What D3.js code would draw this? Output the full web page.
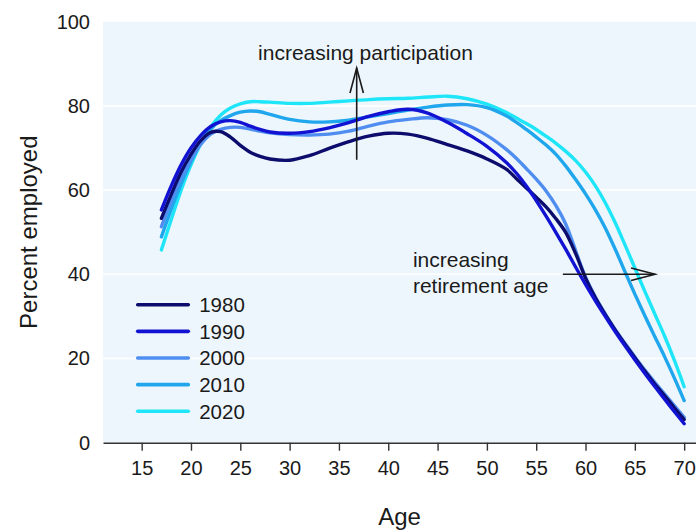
<!DOCTYPE html>
<html>
<head>
<meta charset="utf-8">
<script src="https://cdn.jsdelivr.net/npm/d3@7"></script>
<style>
  html, body { margin: 0; padding: 0; background: #ffffff; }
  svg { display: block; font-family: "Liberation Sans", Arial, sans-serif; }
</style>
</head>
<body>
<svg id="chart" width="696" height="532"></svg>
<script>
// ---- Data ----
const ages = [17,18,19,20,21,22,23,24,25,26,27,28,
              30,32,34,36,38,40,42,44,46,48,50,52,
              53,54,55,56,57,58,59,60,61,62,63,64,65,66,67,68,69,70];
const years = ["1980","1990","2000","2010","2020"];
const v1980 = [53.3,59.0,64.3,68.5,71.8,73.7,73.9,72.6,70.6,69.0,68.0,67.4,
               67.1,68.2,69.9,71.5,72.8,73.5,73.3,72.3,70.8,69.3,67.4,64.9,
               62.7,60.5,58.3,56.0,53.2,49.9,44.9,39.1,34.4,30.4,26.8,23.4,20.2,17.0,14.0,11.2,8.3,5.5];
const v1990 = [55.3,61.0,66.0,70.0,73.0,75.1,76.2,76.5,76.1,75.2,74.4,73.8,
               73.5,73.9,74.8,76.0,77.5,78.6,79.2,78.3,76.1,73.4,70.4,66.5,
               64.0,61.0,57.5,53.8,49.9,45.9,41.7,37.6,33.7,30.0,26.4,23.0,19.7,16.5,13.4,10.4,7.4,4.5];
const v2000 = [51.3,57.3,62.8,67.3,70.9,73.3,74.4,74.9,74.9,74.5,74.0,73.6,
               73.2,73.1,73.3,74.0,75.2,76.2,76.8,77.2,76.7,75.4,73.0,69.6,
               67.5,65.1,62.6,59.8,56.3,51.9,45.6,39.3,34.6,30.6,26.9,23.6,20.4,17.3,14.4,11.6,8.8,6.0];
const v2010 = [48.9,55.5,61.5,66.8,71.3,74.5,76.5,77.7,78.5,78.8,78.6,78.0,
               76.8,76.2,76.2,76.6,77.4,78.2,79.0,79.7,80.2,80.3,79.6,77.6,
               76.1,74.4,72.6,70.7,68.5,65.7,62.5,59.1,55.3,51.0,46.0,40.6,35.3,30.2,25.3,20.5,15.4,10.0];
const v2020 = [45.8,53.0,60.0,66.0,71.0,75.0,77.8,79.5,80.5,81.0,81.0,80.9,
               80.6,80.6,80.9,81.2,81.5,81.7,81.8,82.1,82.3,81.7,80.4,78.4,
               77.1,75.8,74.4,72.8,71.1,69.2,67.0,64.3,61.0,57.0,52.3,47.0,41.5,36.0,30.7,25.4,19.6,13.3];
const seriesValues = [v1980, v1990, v2000, v2010, v2020];
const colors = ["#0c0c6c", "#1212d2", "#4f8ef0", "#1fa6ec", "#1ee6f8"];
const xTicks = [15,20,25,30,35,40,45,50,55,60,65,70];
const yTicks = [0,20,40,60,80,100];
const gridValues = [20,40,60,80];

// ---- Layout ----
const svg = d3.select("#chart");
const plot = { left: 103, right: 696, top: 21.7, bottom: 442.7 };
const x = d3.scaleLinear().domain([11.08, 71.2]).range([plot.left, plot.right]);
const y = d3.scaleLinear().domain([0, 100]).range([plot.bottom, plot.top]);
const textColor = "#1a1a1a";

// background
svg.append("rect")
  .attr("x", plot.left).attr("y", y(100))
  .attr("width", plot.right - plot.left).attr("height", y(0) - y(100))
  .attr("fill", "#eef6fd");

// gridlines
svg.append("g").selectAll("line").data(gridValues).join("line")
  .attr("x1", plot.left).attr("x2", plot.right)
  .attr("y1", d => y(d)).attr("y2", d => y(d))
  .attr("stroke", "#ffffff").attr("stroke-width", 1.5);

// series lines
const line = d3.line()
  .x((d, i) => x(ages[i]))
  .y(d => y(d))
  .curve(d3.curveCatmullRom.alpha(0.5));

const drawOrder = [4, 3, 2, 0, 1];
svg.append("g").selectAll("path").data(drawOrder).join("path")
  .attr("d", k => line(seriesValues[k]))
  .attr("fill", "none")
  .attr("stroke", k => colors[k])
  .attr("stroke-width", 3.4)
  .attr("stroke-linejoin", "round")
  .attr("stroke-linecap", "round");

// x axis
const xAxis = d3.axisBottom(x).tickValues(xTicks).tickSizeInner(8).tickSizeOuter(0).tickPadding(10);
const gx = svg.append("g").attr("transform", `translate(0,${y(0)})`).call(xAxis);
gx.select(".domain").attr("stroke", "#333333").attr("stroke-width", 1.6);
gx.selectAll(".tick line").attr("stroke", "#333333").attr("stroke-width", 1.4);
gx.selectAll(".tick text").attr("fill", textColor).style("font-size", "20px")
  .style("font-family", "'Liberation Sans', Arial, sans-serif");

// y axis
const yAxis = d3.axisLeft(y).tickValues(yTicks).tickSize(0).tickPadding(13);
const gy = svg.append("g").attr("transform", `translate(${plot.left},0)`).call(yAxis);
gy.select(".domain").remove();
gy.selectAll(".tick text").attr("fill", textColor).style("font-size", "20px")
  .style("font-family", "'Liberation Sans', Arial, sans-serif");

// axis titles
svg.append("text")
  .attr("x", (plot.left + plot.right) / 2).attr("y", 525)
  .attr("text-anchor", "middle").attr("fill", textColor)
  .style("font-size", "24px").text("Age");
svg.append("text")
  .attr("transform", `translate(37,${(plot.top + plot.bottom) / 2}) rotate(-90)`)
  .attr("text-anchor", "middle").attr("fill", textColor)
  .style("font-size", "24px").text("Percent employed");

// annotations
const ann = svg.append("g").attr("fill", textColor).style("font-size", "21px");
ann.append("text").attr("x", x(26.8)).attr("y", y(90.9)).text("increasing participation");
ann.append("text").attr("x", x(42.5)).attr("y", y(41.8)).text("increasing");
ann.append("text").attr("x", x(42.5)).attr("y", y(41.8) + 26).text("retirement age");

const arrowStroke = "#1a1a1a";
// vertical arrow
const ax = x(36.8), ay0 = y(67.2), ay1 = y(89.0);
svg.append("line").attr("x1", ax).attr("x2", ax).attr("y1", ay0).attr("y2", ay1)
  .attr("stroke", arrowStroke).attr("stroke-width", 1.6);
svg.append("path")
  .attr("d", `M${ax - 6.7},${ay1 + 25} L${ax},${ay1} L${ax + 6.7},${ay1 + 25}`)
  .attr("fill", "none").attr("stroke", arrowStroke).attr("stroke-width", 1.6);
// horizontal arrow
const hy = y(40), hx0 = x(57.7), hx1 = x(67.05);
svg.append("line").attr("x1", hx0).attr("x2", hx1).attr("y1", hy).attr("y2", hy)
  .attr("stroke", arrowStroke).attr("stroke-width", 1.6);
svg.append("path")
  .attr("d", `M${hx1 - 24},${hy - 6.2} L${hx1},${hy} L${hx1 - 24},${hy + 6.2}`)
  .attr("fill", "none").attr("stroke", arrowStroke).attr("stroke-width", 1.6);

// legend
const legend = svg.append("g");
const items = legend.selectAll("g").data(years).join("g")
  .attr("transform", (d, i) => `translate(137.7,${304.7 + i * 26.65})`);
items.append("line").attr("x1", 0).attr("x2", 50.6).attr("y1", 0).attr("y2", 0)
  .attr("stroke", (d, i) => colors[i]).attr("stroke-width", 3.6).attr("stroke-linecap", "round");
items.append("text").attr("x", 61.5).attr("y", 7.3).attr("fill", textColor)
  .style("font-size", "20.5px").text(d => d);
</script>
</body>
</html>
